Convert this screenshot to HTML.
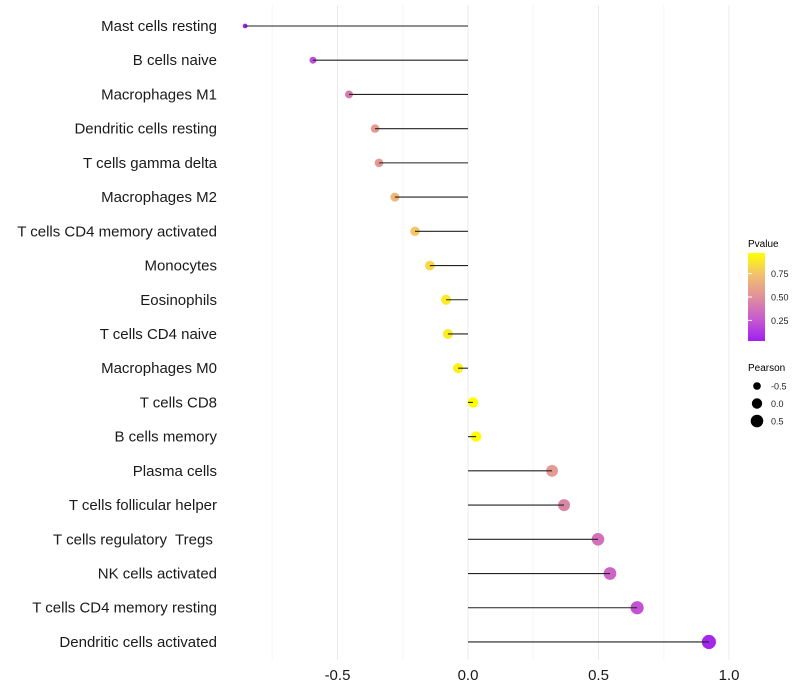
<!DOCTYPE html>
<html><head><meta charset="utf-8"><style>
body{margin:0;background:#fff}
svg{display:block;font-family:"Liberation Sans",sans-serif}
text{white-space:pre}
</style></head><body>
<svg id="chart" width="800" height="700">
<defs><linearGradient id="pg" x1="0" y1="1" x2="0" y2="0">
<stop offset="0" stop-color="#a020f0"/><stop offset="0.25" stop-color="#c85ad0"/><stop offset="0.5" stop-color="#e0909a"/><stop offset="0.75" stop-color="#f2bf70"/><stop offset="1" stop-color="#ffff00"/></linearGradient></defs>
<g id="grid"></g>
<g id="marks"></g>
<g id="labels"></g>
<g id="xticks"></g>
<g>
<text x="748" y="247" font-size="10" fill="#000">Pvalue</text>
<rect x="748" y="253" width="17" height="88" fill="url(#pg)"/>
<g id="legTicks"></g>
</g>
<g>
<text x="748" y="371" font-size="10" fill="#000">Pearson</text>
<g id="sizeLeg"></g>
</g>
</svg>
<script>
const categories=["Mast cells resting","B cells naive","Macrophages M1","Dendritic cells resting","T cells gamma delta","Macrophages M2","T cells CD4 memory activated","Monocytes","Eosinophils","T cells CD4 naive","Macrophages M0","T cells CD8","B cells memory","Plasma cells","T cells follicular helper","T cells regulatory  Tregs ","NK cells activated","T cells CD4 memory resting","Dendritic cells activated"];
const pearson=[-0.854,-0.594,-0.456,-0.356,-0.341,-0.280,-0.203,-0.146,-0.084,-0.077,-0.038,0.019,0.031,0.322,0.368,0.498,0.544,0.648,0.923];
const pvalue=[0.0,0.2,0.4,0.55,0.55,0.7,0.78,0.85,0.92,0.92,0.94,1.0,1.0,0.55,0.45,0.35,0.3,0.22,0.03];
const xTicks=[-0.5,0.0,0.5,1.0];
const pTicks=[0.25,0.5,0.75];
const sizeTicks=[-0.5,0.0,0.5];
const NS="http://www.w3.org/2000/svg";
const X=v=>468+v*261;
const Y=i=>26+i*34.22;
const R=p=>Math.sqrt(Math.max(27+25*p,1));
const stops=[[0,[160,32,240]],[0.25,[200,90,208]],[0.5,[224,144,154]],[0.75,[242,191,112]],[1,[255,255,0]]];
function col(p){p=Math.max(0,Math.min(1,p));for(let k=1;k<stops.length;k++){if(p<=stops[k][0]){const a=stops[k-1],b=stops[k],t=(p-a[0])/(b[0]-a[0]);return "rgb("+a[1].map((c,j)=>Math.round(c+(b[1][j]-c)*t)).join(",")+")";}}}
const PY=p=>341-(p-0.03)/(0.97-0.03)*88;
function mk(t,a,parent){const e=document.createElementNS(NS,t);for(const k in a)e.setAttribute(k,a[k]);document.getElementById(parent).appendChild(e);return e;}
for(let v=-0.75;v<=1.0001;v+=0.25){
 const g=mk("line",{x1:X(v),x2:X(v),y1:5,y2:660,stroke:Math.abs((v*4)%2)===1?"#f5f5f5":"#ebebeb","stroke-width":1},"grid");
 
 
}
categories.forEach((c,i)=>{
 const t=mk("text",{x:217,y:Y(i)+5,"text-anchor":"end","font-size":15,fill:"#1a1a1a"},"labels");t.textContent=c;
 
 
 const p=mk("circle",{cx:X(pearson[i]),cy:Y(i),r:R(pearson[i]),fill:col(pvalue[i])},"marks");
 
 
 const l=mk("line",{x1:X(0),x2:X(pearson[i]),y1:Y(i),y2:Y(i),stroke:"#222","stroke-width":1.1},"marks");
 
 
});
xTicks.forEach(v=>{
 const t=mk("text",{x:X(v),y:680,"text-anchor":"middle","font-size":15,fill:"#1a1a1a"},"xticks");t.textContent=v.toFixed(1);
 
 
});
pTicks.forEach(v=>{
 const t=mk("text",{x:771,y:PY(v)+3.5,"font-size":9,fill:"#222"},"legTicks");t.textContent=v.toFixed(2);
 
 
 const l=mk("line",{x1:748,x2:752,y1:PY(v),y2:PY(v),stroke:"#fff","stroke-width":1},"legTicks");
 
 
});
sizeTicks.forEach((v,k)=>{
 const y=386+k*17.5;
 const c=mk("circle",{cx:757,cy:y,r:R(v),fill:"#000"},"sizeLeg");
 
 
 const t=mk("text",{x:771,y:y+3.5,"font-size":9,fill:"#222"},"sizeLeg");t.textContent=v.toFixed(1);
 
 
});
</script>
</body></html>
